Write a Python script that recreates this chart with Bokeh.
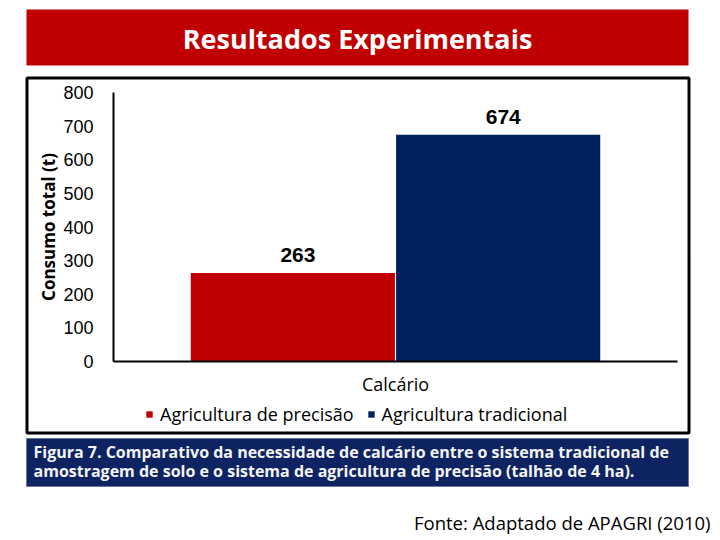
from bokeh.plotting import figure
from bokeh.models import (Range1d, ColumnDataSource, Legend, LegendItem, FixedTicker, LinearAxis)
from bokeh.transform import dodge
from bokeh.core.properties import value
from bokeh.embed import file_html
from bokeh.resources import INLINE

# ---------------- data ----------------
title_text = "Resultados Experimentais"
categories = ["Calcário"]
series_names = ["Agricultura de precisão", "Agricultura tradicional"]
series_values = [263, 674]
series_colors = ["#C00000", "#002060"]
y_ticks = [0, 100, 200, 300, 400, 500, 600, 700, 800]
y_label = "Consumo total (t)"
caption_lines = [
    "Figura 7. Comparativo da necessidade de calcário entre o sistema tradicional de",
    "amostragem de solo e o sistema de agricultura de precisão (talhão de 4 ha).",
]
source_note = "Fonte: Adaptado de APAGRI (2010)"

# ---------------- layout (canvas pixels) ----------------
W, H = 720, 540
COMIC = "Open Sans"
NUM = "Liberation Sans"
FL, FR, FT, FB = 113, 677, 92, 361          # plot area of the chart
Y_MIN, Y_MAX = 0, 800

p = figure(width=W, height=H, x_range=Range1d(0, W), y_range=Range1d(H, 0),
           output_backend="svg", toolbar_location=None, min_border=0,
           x_axis_location=None, y_axis_location=None)
p.outline_line_color = None
p.grid.visible = False
p.background_fill_color = "white"
p.border_fill_color = "white"

# chart scales mapped onto the plot area
px_per_cat = (FR - FL) / len(categories)
px_per_val = (FB - FT) / (Y_MAX - Y_MIN)
p.extra_x_ranges = {"cat": Range1d(-0.5 - FL / px_per_cat, len(categories) - 0.5 + (W - FR) / px_per_cat)}
p.extra_y_ranges = {"val": Range1d(Y_MIN - (H - FB) / px_per_val, Y_MAX + FT / px_per_val)}

# --- decorations
p.quad(left=[26], right=[688], top=[9], bottom=[65], fill_color="#C00000", line_color=None)
p.text(x=[357], y=[38], text=[title_text], text_align="center", text_baseline="middle",
       text_color="white", text_font=value(COMIC), text_font_style="bold",
       text_font_size="27px")
p.quad(left=[26.5], right=[688.5], top=[77.5], bottom=[432.5], fill_alpha=0,
       line_color="black", line_width=3)
p.quad(left=[26], right=[688], top=[438], bottom=[486], fill_color="#0E2462",
       line_color="#6A7898", line_width=1)
for i, line in enumerate(caption_lines):
    p.text(x=[33], y=[451 + 19.5 * i], text=[line], text_align="left",
           text_baseline="middle", text_color="#F4F4F4", text_font=value(COMIC),
           text_font_style="bold", text_font_size="16px")
p.text(x=[710], y=[522], text=[source_note], text_align="right", text_baseline="middle",
       text_color="black", text_font=value(COMIC), text_font_size="18.5px")

# --- bars
offsets = [-0.182, 0.182]
items = []
for name, val, col, off in zip(series_names, series_values, series_colors, offsets):
    src = ColumnDataSource(dict(x=list(range(len(categories))), top=[val], label=[str(val)]))
    r = p.vbar(x=dodge("x", off), top="top", width=0.362, bottom=Y_MIN, source=src,
               fill_color=col, line_color=None, x_range_name="cat", y_range_name="val")
    p.text(x=dodge("x", off + 0.009), y="top", text="label", source=src,
           x_range_name="cat", y_range_name="val",
           text_align="center", text_baseline="bottom", y_offset=-11,
           text_font=value(NUM), text_font_style="bold", text_font_size="21px",
           text_color="black")
    items.append(LegendItem(label=name, renderers=[r]))

# --- axes drawn at the plot-area edges
yaxis = LinearAxis(y_range_name="val", fixed_location=FL, bounds=(Y_MIN, Y_MAX),
                   ticker=FixedTicker(ticks=y_ticks), axis_label=y_label)
yaxis.axis_label_text_font = COMIC
yaxis.axis_label_text_font_style = "bold"
yaxis.axis_label_text_font_size = "17px"
yaxis.axis_label_text_color = "black"
yaxis.axis_label_standoff = 0
yaxis.major_label_text_font = NUM
yaxis.major_label_text_font_size = "18px"
yaxis.major_label_text_color = "black"
yaxis.major_label_standoff = 20
yaxis.major_tick_in = 0
yaxis.major_tick_out = 0
yaxis.major_tick_line_color = None
yaxis.minor_tick_line_color = None
yaxis.axis_line_width = 2
yaxis.axis_line_color = "black"
p.add_layout(yaxis, "left")

xaxis = LinearAxis(x_range_name="cat", fixed_location=FB, bounds=(-0.5, len(categories) - 0.5),
                   ticker=FixedTicker(ticks=list(range(len(categories)))),
                   major_label_overrides={i: c for i, c in enumerate(categories)})
xaxis.major_tick_in = 0
xaxis.major_tick_out = 0
xaxis.major_tick_line_color = None
xaxis.minor_tick_line_color = None
xaxis.major_label_text_font = COMIC
xaxis.major_label_text_font_size = "18px"
xaxis.major_label_text_color = "black"
xaxis.major_label_standoff = 10
xaxis.axis_line_width = 2
xaxis.axis_line_color = "black"
p.add_layout(xaxis, "below")

legend = Legend(items=items, location=(145, 114), orientation="horizontal",
                glyph_width=8, glyph_height=8, label_standoff=7, spacing=13,
                padding=0, margin=0, border_line_color=None, background_fill_alpha=0,
                label_text_font=COMIC, label_text_font_size="18px", label_text_color="black")
p.add_layout(legend)

open("out.html", "w").write(file_html(p, INLINE))
